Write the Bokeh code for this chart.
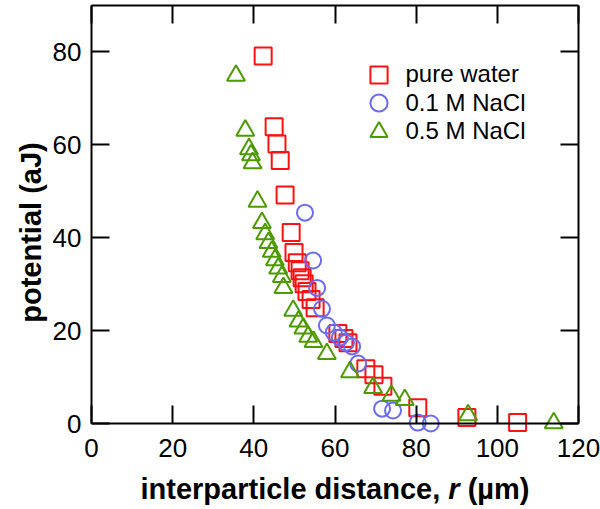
import math
from bokeh.plotting import figure
from bokeh.models import Legend, LegendItem, LinearAxis, FixedTicker, Range1d, Label
from bokeh.embed import file_html
from bokeh.resources import INLINE

# ---- data ----
water_r = [42.3, 45.0, 45.7, 46.5, 47.7, 49.2, 49.9, 50.7, 51.4, 51.9, 52.4, 53.1,
           54.1, 55.1, 60.7, 62.2, 63.2, 67.6, 69.6, 71.8, 80.4, 92.5, 105.0]
water_u = [79.1, 63.9, 60.2, 56.6, 49.2, 41.1, 36.8, 34.6, 32.9, 31.4, 30.1, 28.4,
           26.7, 24.9, 19.4, 18.3, 17.4, 11.8, 10.5, 8.0, 3.4, 1.3, 0.2]

nacl01_r = [52.6, 54.6, 55.6, 56.8, 58.0, 59.7, 61.2, 62.7, 64.2, 65.7, 71.6, 74.3, 80.4, 83.6]
nacl01_u = [45.4, 35.1, 29.2, 24.7, 21.1, 19.6, 18.5, 17.4, 16.6, 12.9, 3.2, 2.8, 0.2, 0.0]

nacl05_r = [35.6, 37.9, 38.8, 39.3, 39.7, 40.9, 42.0, 42.8, 43.6, 44.4, 45.2, 46.0, 46.9,
            47.3, 49.7, 51.0, 52.2, 53.4, 54.7, 58.0, 63.7, 69.4, 73.9, 77.2, 92.8, 113.9]
nacl05_u = [74.9, 63.1, 59.1, 57.8, 56.1, 47.8, 43.2, 40.8, 38.9, 37.0, 35.2, 33.4, 31.6,
            29.2, 24.3, 22.0, 20.5, 18.7, 17.6, 15.0, 11.1, 7.7, 6.0, 5.1, 1.8, 0.1]

x_ticks = [0, 20, 40, 60, 80, 100, 120]
y_ticks = [0, 20, 40, 60, 80]
x_lim = (0, 120)
y_lim = (0, 90)
series_labels = ["pure water", "0.1 M NaCl", "0.5 M NaCl"]
x_title = ["interparticle distance,", "r", "(\u00b5m)"]
y_title = "potential (aJ)"

FONT = "Liberation Sans"
RED = "#ff1010"
BLUE = "#6a6af5"
GREEN = "#4c9a00"

W, H = 600, 509
# plot box in page pixels
BOX_L, BOX_R, BOX_T, BOX_B = 91, 578, 5, 423
kx = (BOX_R - BOX_L) / (x_lim[1] - x_lim[0])
ky = (BOX_B - BOX_T) / (y_lim[1] - y_lim[0])
x_range = Range1d(x_lim[0] - BOX_L / kx, x_lim[1] + (W - BOX_R) / kx)
y_range = Range1d(y_lim[0] - (H - BOX_B) / ky, y_lim[1] + BOX_T / ky)

p = figure(width=W, height=H, output_backend="svg", toolbar_location=None,
           x_range=x_range, y_range=y_range,
           x_axis_location=None, y_axis_location=None,
           min_border=0)
p.grid.visible = False
p.outline_line_color = None
p.background_fill_color = "white"
p.border_fill_color = "white"


def make_axis(ticks, loc, bounds, show_labels, standoff):
    ax = LinearAxis(fixed_location=loc, bounds=bounds)
    ax.ticker = FixedTicker(ticks=ticks)
    ax.major_tick_in = 18
    ax.major_tick_out = 0
    ax.minor_tick_in = 0
    ax.minor_tick_out = 0
    ax.axis_line_width = 2
    ax.axis_line_color = "black"
    ax.major_tick_line_width = 2
    ax.major_tick_line_color = "black"
    ax.major_label_text_font = FONT
    ax.major_label_standoff = standoff
    if show_labels:
        ax.major_label_text_font_size = "26px"
        ax.major_label_text_color = "black"
    else:
        ax.major_label_text_font_size = "1px"
        ax.major_label_text_color = None
    return ax


p.add_layout(make_axis(x_ticks, y_lim[0], x_lim, True, 15), "below")
p.add_layout(make_axis(y_ticks, x_lim[0], y_lim, True, 10), "left")
p.add_layout(make_axis(x_ticks, y_lim[1], x_lim, False, 0), "above")
p.add_layout(make_axis(y_ticks, x_lim[1], y_lim, False, 0), "right")

r1 = p.scatter(water_r, water_u, marker="square", size=17, fill_color=None,
               line_color=RED, line_width=2)
r2 = p.scatter(nacl01_r, nacl01_u, marker="circle", size=16, fill_color=None,
               line_color=BLUE, line_width=2)
r3 = p.scatter(nacl05_r, nacl05_u, marker="triangle", size=18, fill_color=None,
               line_color=GREEN, line_width=2)

# one legend box per entry so that the rows can be packed closely
GH = 43
row_centers = [74, 102.5, 131]
for lab, rend, cy in zip(series_labels, [r1, r2, r3], row_centers):
    lg = Legend(items=[LegendItem(label=lab, renderers=[rend])],
                location=(356.5, H - (cy - GH / 2) - GH),
                glyph_width=GH, glyph_height=GH,
                label_height=GH, label_standoff=6, spacing=0, padding=0, margin=0,
                label_text_font=FONT, label_text_font_size="24px",
                label_text_color="black", border_line_color=None,
                background_fill_alpha=0)
    p.add_layout(lg)

# axis titles (x title: bold with an italic "r")
FS = 29
SPACE = 0.278
em_widths = [10.337, 0.389, 2.166]
styles = ["bold", "bold italic", "bold"]
total = (sum(em_widths) + 2 * SPACE) * FS
x0 = 335 - total / 2
for txt, w, st in zip(x_title, em_widths, styles):
    p.add_layout(Label(x=x0, y=H - 488, x_units="screen", y_units="screen", text=txt,
                       text_font=FONT, text_font_size=f"{FS}px", text_font_style=st,
                       text_baseline="alphabetic", text_align="left", text_color="black"))
    x0 += (w + SPACE) * FS

p.add_layout(Label(x=30, y=H - 232, x_units="screen", y_units="screen", text=y_title,
                   angle=math.pi / 2, text_font=FONT, text_font_size=f"{FS}px",
                   text_font_style="bold", text_baseline="middle", text_align="center",
                   text_color="black"))

open("out.html", "w").write(file_html(p, INLINE))
